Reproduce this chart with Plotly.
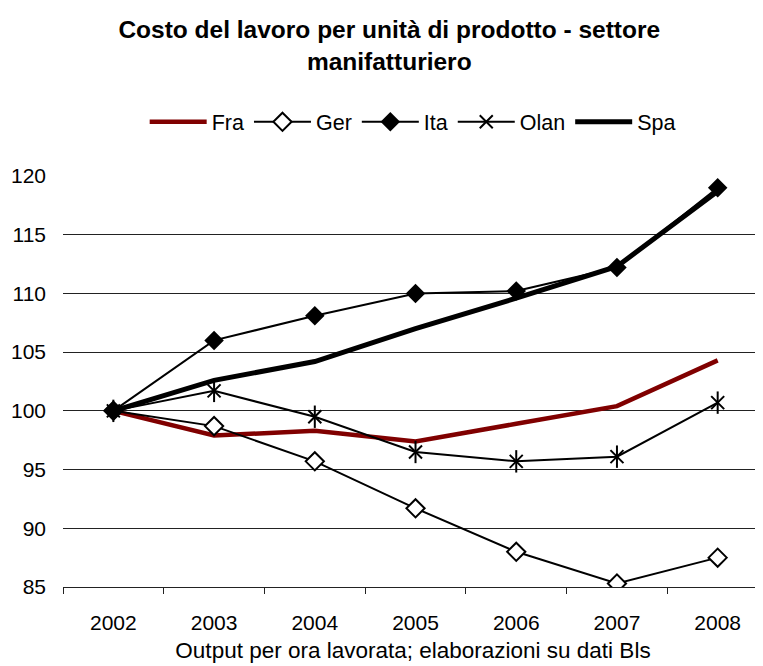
import plotly.graph_objects as go

years = ["2002", "2003", "2004", "2005", "2006", "2007", "2008"]

fra = [100, 97.9, 98.3, 97.4, 98.9, 100.4, 104.3]
ger = [100, 98.7, 95.7, 91.7, 88.0, 85.3, 87.5]
ita = [100, 106.0, 108.1, 110.0, 110.2, 112.2, 119.0]
olan = [100, 101.7, 99.5, 96.5, 95.7, 96.1, 100.7]
spa = [100, 102.6, 104.2, 107.0, 109.6, 112.3, 118.7]

font_fam = "Arial, Liberation Sans, sans-serif"

fig = go.Figure()

fig.add_trace(go.Scatter(x=years, y=fra, name="Fra", mode="lines",
                         line=dict(color="#800000", width=4.5)))
fig.add_trace(go.Scatter(x=years, y=ger, name="Ger", mode="lines+markers",
                         line=dict(color="black", width=2),
                         marker=dict(symbol="diamond", size=14, color="white",
                                     line=dict(color="black", width=2))))
fig.add_trace(go.Scatter(x=years, y=ita, name="Ita", mode="lines+markers",
                         line=dict(color="black", width=2),
                         marker=dict(symbol="diamond", size=15, color="black")))
# asterisk in the original has 6 arms: x plus a vertical stroke
fig.add_trace(go.Scatter(x=years, y=olan, name="Olan", mode="lines+markers",
                         legendgroup="olan",
                         line=dict(color="black", width=2),
                         marker=dict(symbol="x-thin-open", size=13, color="black",
                                     line=dict(color="black", width=2))))
fig.add_trace(go.Scatter(x=years, y=olan, name="Olan", mode="markers",
                         legendgroup="olan", showlegend=False,
                         marker=dict(symbol="line-ns-open", size=16, color="black",
                                     line=dict(color="black", width=2))))
fig.add_trace(go.Scatter(x=years, y=spa, name="Spa", mode="lines",
                         line=dict(color="black", width=5)))

# page has an 8px body margin, so the figure is a bit smaller than the window
fig.update_layout(
    width=755, height=658,
    paper_bgcolor="white", plot_bgcolor="white",
    font=dict(family=font_fam, size=21, color="black"),
    title=dict(text="<b>Costo del lavoro per unità di prodotto - settore<br>manifatturiero</b>",
               x=0.505, xanchor="center", yref="container", y=0.954, yanchor="top",
               font=dict(size=24.5, family=font_fam)),
    legend=dict(orientation="h", xref="container", x=0.536, xanchor="center",
                yref="container", y=0.827, yanchor="middle",
                font=dict(size=21.5), itemwidth=57),
    margin=dict(l=55, r=0, t=168, b=79),
    showlegend=True,
)

fig.update_xaxes(type="category", range=[-0.5, 6.45], showline=True, linecolor="#222",
                 linewidth=1, ticks="outside", tickson="boundaries", ticklen=6,
                 tickcolor="#222", showgrid=False, ticklabelstandoff=17, automargin=False,
                 title=dict(text="Output per ora lavorata; elaborazioni su dati Bls",
                            standoff=9, font=dict(size=22.5)))
fig.update_yaxes(range=[85, 120], dtick=5, showline=False, showgrid=True,
                 gridcolor="#222", gridwidth=1, zeroline=False, automargin=False,
                 ticks="", ticklabelstandoff=16)

fig.write_html("out.html")
